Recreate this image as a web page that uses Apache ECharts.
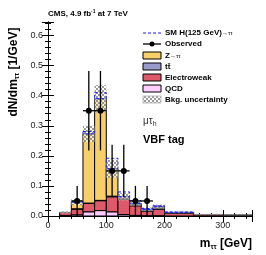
<!DOCTYPE html>
<html><head><meta charset="utf-8">
<script src="https://cdn.jsdelivr.net/npm/echarts@6/dist/echarts.min.js"></script>
<style>html,body{margin:0;padding:0;background:#fff}#c{width:266px;height:255px}</style>
</head><body><div id="c"></div>
<script>
// ---- data ----
const binLo = [0, 20, 40, 60, 80, 100, 120, 140, 160, 180, 200, 250, 300];
const binHi = [20, 40, 60, 80, 100, 120, 140, 160, 180, 200, 250, 300, 350];
const qcd   = [0, 0.002, 0.004, 0.014, 0.018, 0.014, 0.005, 0.002, 0.001, 0.001, 0, 0, 0];
const ewk   = [0, 0.010, 0.019, 0.028, 0.033, 0.050, 0.050, 0.032, 0.015, 0.022, 0.009, 0.004, 0.002];
const ttbar = [0, 0, 0.001, 0.001, 0.001, 0.002, 0.002, 0.004, 0.002, 0.003, 0.002, 0.001, 0.001];
const ztt   = [0, 0, 0.022, 0.230, 0.338, 0.091, 0.007, 0.004, 0.004, 0.005, 0.001, 0, 0];
const higgs = [0, 0, 0.002, 0.008, 0.020, 0.035, 0.016, 0.009, 0.003, 0.003, 0.001, 0, 0];
const bkgUnc = [0, 0.003, 0.010, 0.027, 0.045, 0.030, 0.012, 0.008, 0.006, 0.007, 0.003, 0.002, 0.001];
const obsX   = [50, 70, 90, 110, 130, 150, 170];
const obsY   = [0.05, 0.35, 0.35, 0.15, 0.15, 0.05, 0.05];
const obsErr = [0.05, 0.132, 0.132, 0.087, 0.087, 0.05, 0.05];
const obsHalfWidth = [10, 10, 10, 10, 10, 10, 10];
const xTicks = [0, 100, 200, 300];
const yTicks = [0, 0.1, 0.2, 0.3, 0.4, 0.5, 0.6];

// ---- build stacked layers ----
const layers = [qcd, ewk, ttbar, ztt];
const layerColors = ['#FFCCFF', '#DE5A6A', '#9999CC', '#F8CE68'];
const cum = binLo.map(() => 0);
const layerData = layers.map(arr => arr.map((v, i) => {
  const b = cum[i]; cum[i] += v; return [binLo[i], binHi[i], b, cum[i]];
}));
const total = cum.slice();
const sigData = higgs.map((v, i) => [binLo[i], binHi[i], total[i], total[i] + v]);
const uncData = bkgUnc.map((v, i) => [binLo[i], binHi[i], total[i] - v, total[i] + v]);

// hatch pattern
const pc = document.createElement('canvas');
pc.width = 4; pc.height = 4;
const pctx = pc.getContext('2d');
pctx.fillStyle = 'rgba(255,255,255,0.55)'; pctx.fillRect(0,0,4,4);
pctx.fillStyle = 'rgba(120,120,120,0.75)';
pctx.fillRect(0,0,2,2); pctx.fillRect(2,2,2,2);
const hatch = {image: pc, repeat: 'repeat'};

function barRender(fill, stroke, dash, lw) {
  return function(params, api) {
    const x0 = api.value(0), x1 = api.value(1), y0 = api.value(2), y1 = api.value(3);
    if (y1 - y0 <= 0) return null;
    const p0 = api.coord([x0, y0]), p1 = api.coord([x1, y1]);
    return {type: 'rect', shape: {x: p0[0], y: p1[1], width: p1[0] - p0[0], height: p0[1] - p1[1]},
      style: {fill: fill, stroke: stroke, lineWidth: lw, lineDash: dash}};
  };
}

const series = [];
layers.forEach((l, k) => {
  series.push({type: 'custom', data: layerData[k], renderItem: barRender(layerColors[k], '#000', null, 1),
    encode: {x: [0, 1], y: [2, 3]}, z: 2 + k, silent: true});
});
series.push({type: 'custom', data: uncData, renderItem: barRender(hatch, null, null, 0),
  encode: {x: [0, 1], y: [2, 3]}, z: 7, silent: true});
series.push({type: 'custom', data: sigData, renderItem: barRender('none', '#1a1aff', [3, 2], 1),
  encode: {x: [0, 1], y: [2, 3]}, z: 8, silent: true});
series.push({type: 'custom', z: 10, silent: true,
  data: obsX.map((x, i) => [x, obsY[i], obsErr[i], obsHalfWidth[i]]),
  encode: {x: 0, y: 1},
  renderItem: function(params, api) {
    const x = api.value(0), y = api.value(1), e = api.value(2), hw = api.value(3);
    const c = api.coord([x, y]), l = api.coord([x - hw, y]), r = api.coord([x + hw, y]);
    const t = api.coord([x, y + e]), b = api.coord([x, Math.max(0, y - e)]);
    return {type: 'group', children: [
      {type: 'line', shape: {x1: l[0], y1: c[1], x2: r[0], y2: c[1]}, style: {stroke: '#000', lineWidth: 1.3}},
      {type: 'line', shape: {x1: c[0], y1: t[1], x2: c[0], y2: b[1]}, style: {stroke: '#000', lineWidth: 1.3}},
      {type: 'circle', shape: {cx: c[0], cy: c[1], r: 3}, style: {fill: '#000'}}
    ]};
  }
});

const axCommon = {
  min: 0, axisLine: {show: true, lineStyle: {color: '#000', width: 1}},
  splitLine: {show: false},
  axisTick: {show: true, inside: true, length: 6, lineStyle: {color: '#000'}},
  minorTick: {show: true, splitNumber: 5, length: 3, lineStyle: {color: '#000'}}
};
const font = 'Liberation Sans';
const chart = echarts.init(document.getElementById('c'), null, {renderer: 'canvas'});
chart.setOption({
  animation: false,
  grid: {left: 48, right: 14, top: 22, bottom: 39},
  xAxis: [
    Object.assign({type: 'value', max: 350, interval: 100, position: 'bottom',
      axisLabel: {show: true, showMaxLabel: false, color: '#222', fontSize: 9, fontFamily: font, margin: 5,
        formatter: v => xTicks.includes(v) ? String(v) : ''}}, axCommon),
    Object.assign({type: 'value', max: 350, interval: 100, position: 'top', axisLabel: {show: false}}, axCommon)
  ],
  yAxis: [
    Object.assign({type: 'value', max: 0.645, interval: 0.1, position: 'left',
      axisLabel: {show: true, showMaxLabel: false, color: '#222', fontSize: 9, fontFamily: font, margin: 5,
        formatter: v => { const t = yTicks.find(q => Math.abs(q - v) < 1e-6); return t === undefined ? '' : t.toFixed(1); }}}, axCommon),
    Object.assign({type: 'value', max: 0.645, interval: 0.1, position: 'right', axisLabel: {show: false}}, axCommon)
  ],
  series: series,
  graphic: [
    {type: 'text', left: 48, top: 9, style: {text: 'CMS, 4.9 fb{sup|-1} at 7 TeV', font: 'bold 8px ' + font, fill: '#000',
      rich: {sup: {fontSize: 5, fontWeight: 'bold', verticalAlign: 'top', padding: [0, 0, 4, 0]}}}},
    {type: 'text', x: 14, y: 72, rotation: Math.PI / 2,
      style: {text: 'dN/dm{s|ττ} [1/GeV]', font: 'bold 12px ' + font, fill: '#000', align: 'center', verticalAlign: 'middle',
        rich: {s: {fontSize: 7, fontWeight: 'bold', padding: [6, 0, 0, 0]}}}},
    {type: 'text', x: 252, y: 244,
      style: {text: 'm{s|ττ} [GeV]', font: 'bold 12px ' + font, fill: '#000', align: 'right', verticalAlign: 'middle',
        rich: {s: {fontSize: 7, fontWeight: 'bold', padding: [6, 0, 0, 0]}}}},
    // legend
    {type: 'line', shape: {x1: 143, y1: 33, x2: 161, y2: 33}, style: {stroke: '#1a1aff', lineWidth: 1, lineDash: [3, 2]}},
    {type: 'text', x: 165, y: 33, style: {text: 'SM H(125 GeV){s|→ττ}', font: 'bold 8px ' + font, fill: '#000', verticalAlign: 'middle',
      rich: {s: {fontSize: 6}}}},
    {type: 'line', shape: {x1: 143, y1: 44, x2: 161, y2: 44}, style: {stroke: '#000', lineWidth: 1.3}},
    {type: 'circle', shape: {cx: 152, cy: 44, r: 2.5}, style: {fill: '#000'}},
    {type: 'text', x: 165, y: 44, style: {text: 'Observed', font: 'bold 8px ' + font, fill: '#000', verticalAlign: 'middle'}},
    {type: 'rect', shape: {x: 143, y: 52, width: 18, height: 7}, style: {fill: '#F8CE68', stroke: '#000', lineWidth: 1}},
    {type: 'text', x: 165, y: 56, style: {text: 'Z{s|→ττ}', font: 'bold 8px ' + font, fill: '#000', verticalAlign: 'middle', rich: {s: {fontSize: 6}}}},
    {type: 'rect', shape: {x: 143, y: 63, width: 18, height: 7}, style: {fill: '#9999CC', stroke: '#000', lineWidth: 1}},
    {type: 'text', x: 165, y: 67, style: {text: 'tt̄', font: 'bold 8px ' + font, fill: '#000', verticalAlign: 'middle'}},
    {type: 'rect', shape: {x: 143, y: 74, width: 18, height: 7}, style: {fill: '#DE5A6A', stroke: '#000', lineWidth: 1}},
    {type: 'text', x: 165, y: 78, style: {text: 'Electroweak', font: 'bold 8px ' + font, fill: '#000', verticalAlign: 'middle'}},
    {type: 'rect', shape: {x: 143, y: 85, width: 18, height: 7}, style: {fill: '#FFCCFF', stroke: '#000', lineWidth: 1}},
    {type: 'text', x: 165, y: 89, style: {text: 'QCD', font: 'bold 8px ' + font, fill: '#000', verticalAlign: 'middle'}},
    {type: 'rect', shape: {x: 143, y: 96, width: 18, height: 7}, style: {fill: hatch, stroke: '#bbb', lineWidth: 1}},
    {type: 'text', x: 165, y: 100, style: {text: 'Bkg. uncertainty', font: 'bold 8px ' + font, fill: '#000', verticalAlign: 'middle'}},
    {type: 'text', x: 143, y: 121, style: {text: 'μτ{s|h}', font: '10px ' + font, fill: '#333', verticalAlign: 'middle',
      rich: {s: {fontSize: 7, padding: [7, 0, 0, 0]}}}},
    {type: 'text', x: 143, y: 140, style: {text: 'VBF tag', font: 'bold 11px ' + font, fill: '#000', verticalAlign: 'middle'}}
  ]
});
</script></body></html>
